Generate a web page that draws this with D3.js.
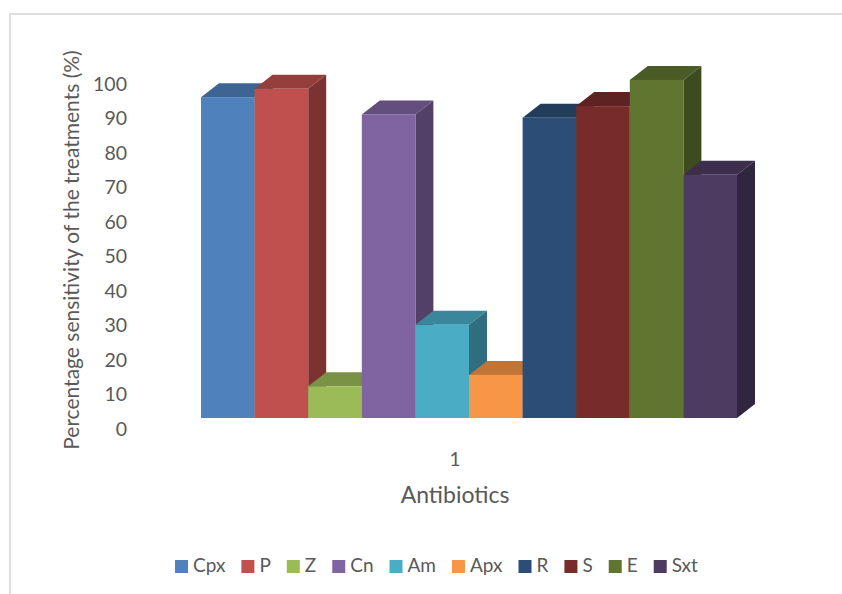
<!DOCTYPE html>
<html>
<head>
<meta charset="utf-8">
<script src="https://cdn.jsdelivr.net/npm/d3@7"></script>
<style>
  html, body { margin: 0; background: #fff; }
  text { font-family: Lato, "Open Sans", sans-serif; fill: #595959; }
</style>
</head>
<body>
<div id="chart"></div>
<script>
const antibiotics = ['Cpx', 'P', 'Z', 'Cn', 'Am', 'Apx', 'R', 'S', 'E', 'Sxt'];
const sensitivity = [93, 95.4, 9.2, 88, 27, 12.5, 87, 90.4, 98, 70.5];
const colors = ['#4f81bd', '#c0504d', '#9bbb59', '#8064a2', '#4bacc6', '#f79646', '#2c4d75', '#772c2a', '#5f7530', '#4d3b62'];
const yTicks = [0, 10, 20, 30, 40, 50, 60, 70, 80, 90, 100];
const groupLabels = ['1'];

const width = 842, height = 594;
const depthX = 18, depthY = 14;
const labelDrop = 11;

const svg = d3.select('#chart').append('svg')
    .attr('width', width)
    .attr('height', height)
    .style('display', 'block');

// chart frame, only the top and left edges are inside the picture
svg.append('path')
    .attr('d', `M10,${height}V14H${width}`)
    .attr('fill', 'none')
    .attr('stroke', '#dedede')
    .attr('stroke-width', 2);

const xScale = d3.scaleBand()
    .domain(antibiotics)
    .range([201, 737]);

const groupScale = d3.scaleBand()
    .domain(groupLabels)
    .range([173, 737]);

const yScale = d3.scaleLinear()
    .domain([0, 100])
    .range([418, 73]);

const bars = svg.append('g')
    .selectAll('g')
    .data(antibiotics)
    .join('g');

const barLeft = d => xScale(d);
const barRight = d => xScale(d) + xScale.bandwidth();
const barTop = (d, i) => yScale(sensitivity[i]);

// top face
bars.append('path')
    .attr('d', (d, i) => {
        const t = barTop(d, i);
        return `M${barLeft(d)},${t}L${barLeft(d) + depthX},${t - depthY}H${barRight(d) + depthX}L${barRight(d)},${t}Z`;
    })
    .attr('fill', (d, i) => d3.rgb(colors[i]).darker(0.7));

// side face
bars.append('path')
    .attr('d', (d, i) => {
        const t = barTop(d, i);
        return `M${barRight(d)},${t}L${barRight(d) + depthX},${t - depthY}V${yScale(0) - depthY}L${barRight(d)},${yScale(0)}Z`;
    })
    .attr('fill', (d, i) => d3.rgb(colors[i]).darker(1.25));

// front face
bars.append('rect')
    .attr('x', barLeft)
    .attr('y', barTop)
    .attr('width', xScale.bandwidth())
    .attr('height', (d, i) => yScale(0) - barTop(d, i))
    .attr('fill', (d, i) => colors[i]);

const yAxis = d3.axisLeft(yScale)
    .tickValues(yTicks)
    .tickSize(0)
    .tickPadding(0);

const yAxisG = svg.append('g')
    .attr('transform', `translate(127,${labelDrop})`)
    .call(yAxis);
yAxisG.select('.domain').remove();
yAxisG.selectAll('text')
    .style('font-size', '19.5px');

const xAxis = d3.axisBottom(groupScale)
    .tickSize(0)
    .tickPadding(0);

const xAxisG = svg.append('g')
    .attr('transform', 'translate(0,452)')
    .call(xAxis);
xAxisG.select('.domain').remove();
xAxisG.selectAll('text').style('font-size', '19px');

svg.append('text')
    .attr('x', 455)
    .attr('y', 503)
    .attr('text-anchor', 'middle')
    .style('font-size', '23px')
    .text('Antibiotics');

svg.append('text')
    .attr('transform', 'translate(79,250) rotate(-90)')
    .attr('text-anchor', 'middle')
    .style('font-size', '21px')
    .text('Percentage sensitivity of the treatments (%)');

// legend, laid out left to right from the measured label widths
const legend = svg.append('g');
let legendX = 175;
antibiotics.forEach((name, i) => {
    legend.append('rect')
        .attr('x', legendX)
        .attr('y', 560)
        .attr('width', 13)
        .attr('height', 13)
        .attr('fill', colors[i]);
    const label = legend.append('text')
        .attr('x', legendX + 18)
        .attr('y', 572)
        .style('font-size', '19px')
        .text(name);
    legendX += 18 + label.node().getComputedTextLength() + 16;
});
</script>
</body>
</html>
